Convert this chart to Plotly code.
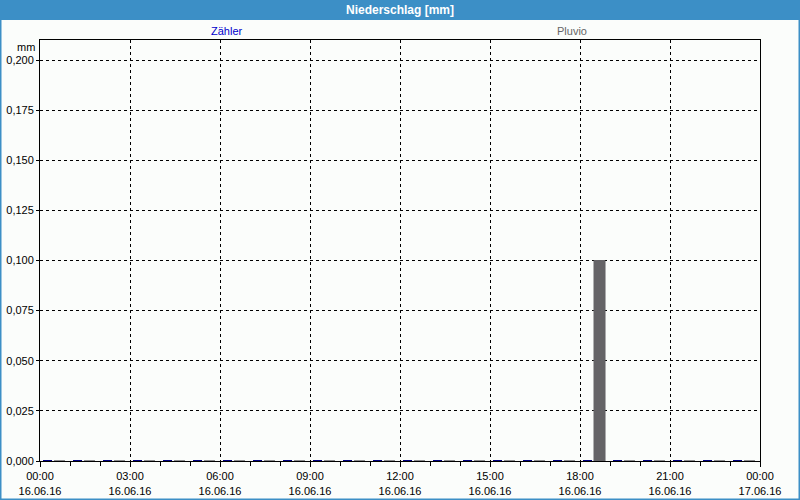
import plotly.graph_objects as go

hours = [f"2016-06-16 {h:02d}:00" for h in range(24)]
zaehler = [0.0] * 24
pluvio = [0.0] * 18 + [0.100] + [0.0] * 5

tick_vals = ["2016-06-16 00:00", "2016-06-16 03:00", "2016-06-16 06:00", "2016-06-16 09:00",
             "2016-06-16 12:00", "2016-06-16 15:00", "2016-06-16 18:00", "2016-06-16 21:00",
             "2016-06-17 00:00"]
tick_text = ["00:00<br>16.06.16", "03:00<br>16.06.16", "06:00<br>16.06.16", "09:00<br>16.06.16",
             "12:00<br>16.06.16", "15:00<br>16.06.16", "18:00<br>16.06.16", "21:00<br>16.06.16",
             "00:00<br>17.06.16"]
y_ticks = [0, 0.025, 0.05, 0.075, 0.1, 0.125, 0.15, 0.175, 0.2]

H = 3600000
fig = go.Figure()
fig.add_trace(go.Bar(x=hours, y=zaehler, name="Zähler", marker=dict(color="#000080", line=dict(color="#000080", width=2)),
                     offset=0.1 * H, width=0.3 * H))
fig.add_trace(go.Bar(x=hours, y=pluvio, name="Pluvio", marker=dict(color="#656467", line=dict(color="#656467", width=1)),
                     offset=0.467 * H, width=0.367 * H))

font = "Liberation Sans, DejaVu Sans, sans-serif"
fig.update_layout(
    width=800, height=500,
    margin=dict(l=40, r=40, t=40, b=39, autoexpand=False),
    paper_bgcolor="#fbfdfb", plot_bgcolor="#fbfdfb",
    showlegend=False, barmode="overlay",
    separators=",.",
    font=dict(family=font, size=11, color="#000000"),
    xaxis=dict(type="date", range=["2016-06-16 00:00", "2016-06-17 00:00"], automargin=False,
               tickvals=tick_vals, ticktext=tick_text, ticks="outside", ticklen=5, tickcolor="#000",
               showgrid=True, gridcolor="#000000", griddash="3px,3px", gridwidth=1,
               showline=True, linecolor="#000", linewidth=1, mirror=True,
               minor=dict(dtick=H, ticks="outside", ticklen=4, tickcolor="#000", showgrid=False),
               zeroline=False, tickfont=dict(size=11)),
    yaxis=dict(range=[0, 0.21], tickvals=y_ticks, tickformat=".3f", ticks="outside", ticklen=3, tickcolor="#000",
               automargin=False,
               showgrid=True, gridcolor="#000000", griddash="3px,3px", gridwidth=1,
               showline=True, linecolor="#000", linewidth=1, mirror=True, zeroline=False,
               tickfont=dict(size=11)),
    shapes=[
        dict(type="rect", xref="paper", yref="paper", x0=-0.06, x1=1.06, y0=1.0 + 20 / 421, y1=1.0 + 41 / 421,
             fillcolor="#3c8fc6", line=dict(width=0), layer="below"),
        dict(type="rect", xref="paper", yref="paper", x0=-40 / 720 + 0.5 / 720, x1=1 + 40 / 720 - 0.5 / 720,
             y0=-39 / 421 + 0.5 / 421, y1=1 + 40 / 421, fillcolor="rgba(0,0,0,0)",
             line=dict(color="#3c8fc6", width=2), layer="below"),
    ],
    annotations=[
        dict(text="<b>Niederschlag [mm]</b>", xref="paper", yref="paper", x=0.5, y=1 + 30 / 421,
             showarrow=False, font=dict(color="white", size=12, family=font), yanchor="middle"),
        dict(text="Zähler", xref="paper", yref="paper", x=(209 - 40) / 720, y=1 + 9 / 421,
             showarrow=False, font=dict(color="#0000cc", size=11), yanchor="middle"),
        dict(text="Pluvio", xref="paper", yref="paper", x=(589 - 40) / 720, y=1 + 9 / 421,
             showarrow=False, font=dict(color="#666666", size=11), yanchor="middle"),
        dict(text="mm", xref="paper", yref="paper", x=-3 / 720, y=1 - 7 / 421, xanchor="right",
             showarrow=False, font=dict(size=11), yanchor="middle"),
    ],
)
fig.write_html("out.html")
